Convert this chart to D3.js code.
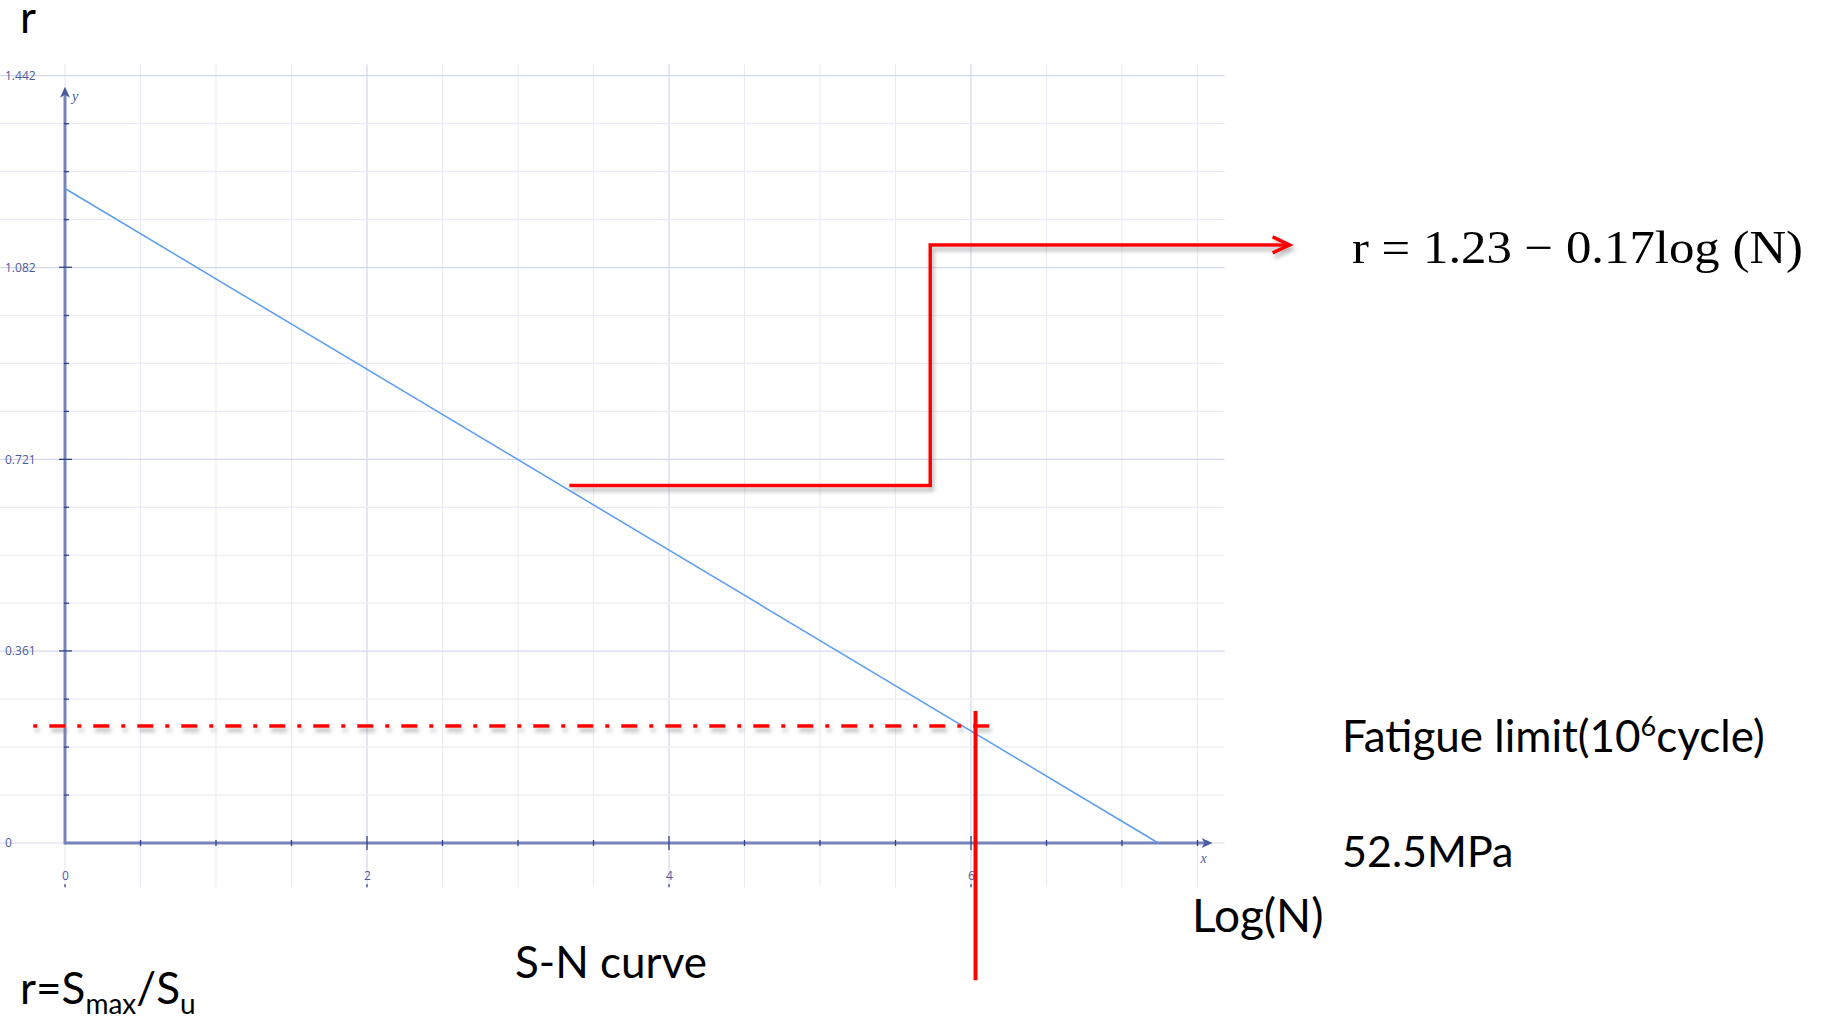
<!DOCTYPE html>
<html><head><meta charset="utf-8">
<script src="https://cdn.jsdelivr.net/npm/d3@7"></script>
<style>body{margin:0;background:#fff;} svg{display:block;}</style>
</head><body><svg id="chart" width="1830" height="1020"></svg>
<script>
// ---- data ----
const xTickValues = [0, 2, 4, 6];
const xTickLabels = ["0", "2", "4", "6"];
const yTickValues = [0, 0.361, 0.721, 1.082, 1.442];
const yTickLabels = ["0", "0.361", "0.721", "1.082", "1.442"];
const curveLogN = [0, 7.24];
const curveR = [1.23, 0];
const stepLogN = [3.34, 5.73, 5.73, 8.11];
const stepR = [0.672, 0.672, 1.124, 1.124];
const limitLogN = [-0.21, 6.12];
const limitR = [0.22, 0.22];
const cycleLogN = [6.03, 6.03];
const cycleR = [0.248, -0.258];
const equationText = "r = 1.23 \u2212 0.17log (N)";

// ---- layout ----
const svg = d3.select("#chart");
svg.append("rect").attr("width", 1830).attr("height", 1020).attr("fill", "#fff");
const x = d3.scaleLinear().domain([0, 6]).range([65, 971]);
const y = d3.scaleLinear().domain([0, 1.442]).range([843, 75.7]);
const gridX = [-0.43, 7.68], gridY = [-0.083, 1.463];
const xArrowEnd = 7.6, yArrowEnd = 1.421;

const defs = svg.append("defs");
const f = defs.append("filter").attr("id", "shadow").attr("filterUnits", "userSpaceOnUse")
  .attr("x", 0).attr("y", 0).attr("width", 1830).attr("height", 1020);
f.append("feDropShadow").attr("dx", 2).attr("dy", 4).attr("stdDeviation", 2.2)
  .attr("flood-color", "#777").attr("flood-opacity", 0.55);
defs.append("marker").attr("id", "arrowR").attr("markerUnits", "userSpaceOnUse")
  .attr("viewBox", "-20 -12 24 24").attr("refX", 0).attr("refY", 0)
  .attr("markerWidth", 24).attr("markerHeight", 24).attr("orient", "auto")
  .append("path").attr("d", "M-17,-8 L0,0 L-17,8").attr("fill", "none")
  .attr("stroke", "#ff0000").attr("stroke-width", 3.5);

// ---- grid ----
const grid = svg.append("g");
const vLines = d3.range(0, 7.51, 0.5);
grid.selectAll(".gv").data(vLines).join("line")
  .attr("x1", d => x(d)).attr("x2", d => x(d))
  .attr("y1", y(gridY[0])).attr("y2", y(gridY[1]))
  .attr("stroke", d => (d % 2 === 0 && d > 0) ? "#d3d8ec" : "#eaecf5").attr("stroke-width", 1.2);
const hLines = d3.range(0, 17).map(i => i * 1.442 / 16);
grid.selectAll(".gh").data(hLines).join("line")
  .attr("y1", d => y(d)).attr("y2", d => y(d))
  .attr("x1", x(gridX[0])).attr("x2", x(gridX[1]))
  .attr("stroke", (d, i) => (i % 4 === 0) ? "#d3d8ec" : "#eaecf5").attr("stroke-width", 1.2);

// ---- axes lines ----
const axisColor = "#7783ba", tickColor = "#33448c";
svg.append("line").attr("x1", x(0)).attr("x2", x(xArrowEnd) - 4).attr("y1", y(0)).attr("y2", y(0))
  .attr("stroke", axisColor).attr("stroke-width", 3);
svg.append("line").attr("x1", x(0)).attr("x2", x(0)).attr("y1", y(0) + 1.5).attr("y2", y(yArrowEnd) + 4)
  .attr("stroke", axisColor).attr("stroke-width", 3);
svg.append("path").attr("transform", `translate(${x(xArrowEnd)},${y(0)})`)
  .attr("d", "M0,0 L-11,-5 L-8,0 L-11,5 Z").attr("fill", "#4a5aa0");
svg.append("path").attr("transform", `translate(${x(0)},${y(yArrowEnd)})`)
  .attr("d", "M0,0 L-5,11 L0,8 L5,11 Z").attr("fill", "#4a5aa0");

// minor / major ticks
const xMinor = d3.range(0.5, 7.51, 0.5).filter(d => d % 2 !== 0);
svg.selectAll(".xmt").data(xMinor).join("line")
  .attr("x1", d => x(d)).attr("x2", d => x(d)).attr("y1", y(0) - 3).attr("y2", y(0) + 3)
  .attr("stroke", tickColor).attr("stroke-width", 1.3);
svg.selectAll(".xMt").data(xTickValues.filter(d => d > 0)).join("line")
  .attr("x1", d => x(d)).attr("x2", d => x(d)).attr("y1", y(0) - 7).attr("y2", y(0) + 7)
  .attr("stroke", tickColor).attr("stroke-width", 1.3);
svg.selectAll(".xbt").data(xTickValues).join("line")
  .attr("x1", d => x(d)).attr("x2", d => x(d)).attr("y1", y(gridY[0]) - 3).attr("y2", y(gridY[0]))
  .attr("stroke", tickColor).attr("stroke-width", 1.3);
const yMinor = hLines.filter((d, i) => i % 4 !== 0);
svg.selectAll(".ymt").data(yMinor).join("line")
  .attr("y1", d => y(d)).attr("y2", d => y(d)).attr("x1", x(0) - 1).attr("x2", x(0) + 4)
  .attr("stroke", tickColor).attr("stroke-width", 1.3);
svg.selectAll(".yMt").data(yTickValues.slice(1, 4)).join("line")
  .attr("y1", d => y(d)).attr("y2", d => y(d)).attr("x1", x(0) - 6).attr("x2", x(0) + 7)
  .attr("stroke", tickColor).attr("stroke-width", 1.3);

// tick labels via d3 axes
const labelColor = "#4b5aa0";
const xAxis = d3.axisBottom(x).tickValues(xTickValues).tickFormat((d, i) => xTickLabels[i]).tickSize(0).tickPadding(28);
const gx = svg.append("g").attr("transform", `translate(0,${y(0)})`).call(xAxis);
gx.select(".domain").remove();
gx.selectAll("text").attr("fill", labelColor).style("font", "12px 'Open Sans'");
const yAxis = d3.axisLeft(y).tickValues(yTickValues).tickFormat((d, i) => yTickLabels[i]).tickSize(0);
const gy = svg.append("g").attr("transform", `translate(${x(0)},0)`).call(yAxis);
gy.select(".domain").remove();
gy.selectAll("text").attr("x", 5 - x(0)).attr("text-anchor", "start").attr("fill", labelColor).style("font", "12px 'Open Sans'");

svg.append("text").attr("x", x(0) + 7).attr("y", y(yArrowEnd) + 14).text("y")
  .attr("fill", labelColor).style("font", "italic 14px 'Liberation Serif'");
svg.append("text").attr("x", x(xArrowEnd) - 12).attr("y", y(0) + 20).text("x")
  .attr("fill", labelColor).style("font", "italic 14px 'Liberation Serif'");

// ---- S-N curve ----
const line = d3.line().x(d => x(d[0])).y(d => y(d[1]));
svg.append("path").datum(d3.zip(curveLogN, curveR)).attr("d", line)
  .attr("fill", "none").attr("stroke", "#5a9cf0").attr("stroke-width", 1.5);

// ---- red annotations ----
svg.append("path").datum(d3.zip(limitLogN, limitR)).attr("d", line)
  .attr("fill", "none").attr("stroke", "#ff0000").attr("stroke-width", 3.5)
  .attr("stroke-dasharray", "4,12,16,12").attr("filter", "url(#shadow)");
svg.append("path").datum(d3.zip(cycleLogN, cycleR)).attr("d", line)
  .attr("fill", "none").attr("stroke", "#ff0000").attr("stroke-width", 4);
svg.append("path").datum(d3.zip(stepLogN, stepR)).attr("d", line)
  .attr("fill", "none").attr("stroke", "#ff0000").attr("stroke-width", 3.5)
  .attr("stroke-linejoin", "miter").attr("marker-end", "url(#arrowR)").attr("filter", "url(#shadow)");

// ---- texts ----
const big = "Lato, 'Open Sans', sans-serif";
svg.append("text").attr("x", 20).attr("y", 33).text("r").style("font-family", big).style("font-size", "44px");
svg.append("text").attr("x", 1352).attr("y", 263).text(equationText)
  .attr("textLength", 451).attr("lengthAdjust", "spacingAndGlyphs")
  .style("font-family", "'Liberation Serif', serif").style("font-size", "46px");
const fl = svg.append("text").attr("x", 1342).attr("y", 752).style("font-family", big).style("font-size", "44px");
fl.append("tspan").text("Fatigue limit(10");
fl.append("tspan").text("6").style("font-size", "27px").attr("dy", -16);
fl.append("tspan").text("cycle)").attr("dy", 16);
svg.append("text").attr("x", 1342).attr("y", 867).text("52.5MPa").style("font-family", big).style("font-size", "43px");
svg.append("text").attr("x", 1192).attr("y", 932).text("Log(N)").style("font-family", big).style("font-size", "46px");
svg.append("text").attr("x", 515).attr("y", 978).text("S-N curve").style("font-family", big).style("font-size", "44px");
const rs = svg.append("text").attr("x", 20).attr("y", 1004).style("font-family", big).style("font-size", "44px");
rs.append("tspan").text("r=S");
rs.append("tspan").text("max").style("font-size", "28px").attr("dy", 10);
rs.append("tspan").text("/S").attr("dy", -10);
rs.append("tspan").text("u").style("font-size", "28px").attr("dy", 10);
</script></body></html>
